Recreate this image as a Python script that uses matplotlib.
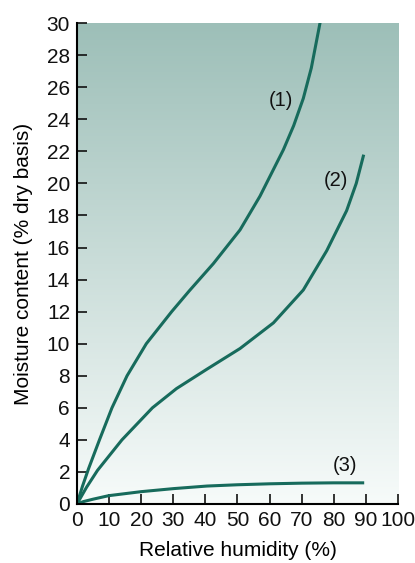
import numpy as np
import matplotlib.pyplot as plt
from matplotlib.colors import LinearSegmentedColormap

plt.rcParams['font.family'] = ['Liberation Sans', 'DejaVu Sans']

# curve (1)
rh1 = [0, 1.7, 3.6, 7.0, 10.9, 15.6, 21.6, 29.5, 35, 42.5, 50.8, 57, 64.3, 67.5, 70.5, 73, 75.7]
mc1 = [0, 1.1, 2.2, 4, 6, 8, 10, 12, 13.3, 15.0, 17.1, 19.2, 22.1, 23.6, 25.3, 27.2, 30]
# curve (2)
rh2 = [0, 3, 6.4, 14.0, 23.5, 31, 40.4, 50.8, 61.2, 70.5, 77.8, 84, 87, 89.2]
mc2 = [0, 1.05, 2.1, 4, 6, 7.2, 8.4, 9.7, 11.3, 13.35, 15.8, 18.3, 20.0, 21.7]
# curve (3)
rh3 = [0, 2, 5, 9.9, 20, 30.1, 40.5, 50, 60, 70, 80, 89]
mc3 = [0, 0.15, 0.3, 0.52, 0.77, 0.96, 1.12, 1.2, 1.26, 1.3, 1.32, 1.32]

labels = ['(1)', '(2)', '(3)']
label_pos = [(63.4, 25.2), (80.7, 20.2), (83.5, 2.4)]

line_color = '#176b5c'

fig = plt.figure(figsize=(4.15, 5.63), dpi=100)
ax = fig.add_axes([0.1855, 0.1048, 0.7735, 0.8542])

cmap = LinearSegmentedColormap.from_list('bg', ['#f7fbfa', '#9dbfb8'])
grad = np.linspace(0, 1, 256).reshape(-1, 1)
ax.imshow(grad, extent=[0, 100, 0, 30], origin='lower', aspect='auto',
          cmap=cmap, zorder=0)

for x, y in [(rh1, mc1), (rh2, mc2), (rh3, mc3)]:
    ax.plot(x, y, color=line_color, lw=2.2, zorder=2, solid_joinstyle='round')

for lab, (x, y) in zip(labels, label_pos):
    ax.text(x, y, lab, fontsize=14.5, ha='center', va='center', color='#111111')

ax.set_xlim(0, 100)
ax.set_ylim(0, 30)
ax.set_xticks(range(0, 101, 10))
ax.set_yticks(range(0, 31, 2))
ax.tick_params(direction='in', length=7, width=1.2, labelsize=15, colors='#111111', pad=5)
ax.spines['top'].set_visible(False)
ax.spines['right'].set_visible(False)
ax.spines['left'].set_linewidth(1.5)
ax.spines['bottom'].set_linewidth(1.5)
ax.set_xlabel('Relative humidity (%)', fontsize=15, labelpad=8)
ax.set_ylabel('Moisture content (% dry basis)', fontsize=15, labelpad=10)

fig.savefig('out.png', dpi=100)
